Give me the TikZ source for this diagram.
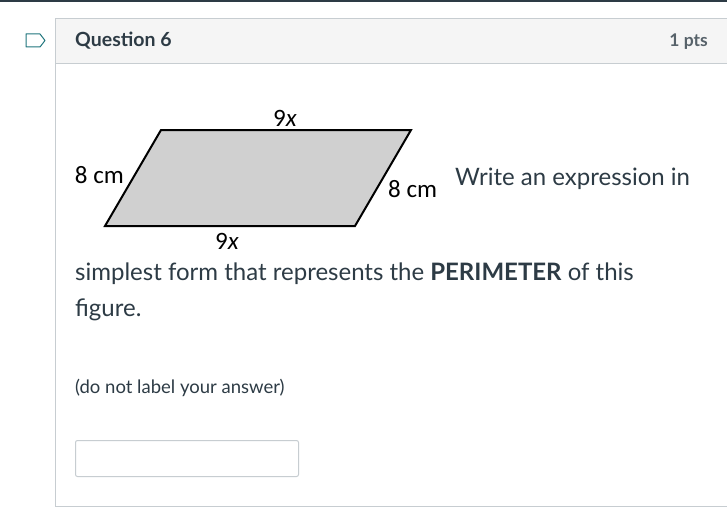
\documentclass[tikz,border=0pt]{standalone}
\usepackage{fontspec}
\setmainfont{Lato}
\newfontfamily\figfont{Carlito}
\usepackage{tikz}

\definecolor{inkdark}{HTML}{2D3B45}
\definecolor{rulegray}{HTML}{C7CDD1}
\definecolor{headbg}{HTML}{F5F5F5}
\definecolor{shapegray}{HTML}{D0D0D0}

\begin{document}
\begin{tikzpicture}[
		x=1pt, y=-1pt,
		every node/.style={inner sep=0pt, text=inkdark},
		body_text/.style={anchor=base west, font=\fontsize{24}{28}\selectfont},
		side_label/.style={font=\figfont\fontsize{25}{28}\selectfont, text=black}
	]
  \useasboundingbox (0,0) rectangle (727,508);
  \fill[white] (0,0) rectangle (727,508);
  \fill[inkdark] (0,0) rectangle (727,2.5);
  \fill[headbg] (55,19) rectangle (727,64);
  \draw[rulegray, line width=1pt] (727,19) -- (55,19) -- (55,506) -- (727,506);
  \draw[rulegray, line width=1pt] (55,64) -- (727,64);
  \draw[inkdark!70!cyan, line width=1pt, line join=round] (26,34) -- (40,34) -- (45,40.5) -- (40,47) -- (26,47) -- cycle;
  \node (q_title) [anchor=west, font=\bfseries\fontsize{19.5}{22}\selectfont] at (75,41) {Question 6};
  \node (q_pts) [anchor=east, font=\bfseries\fontsize{17.5}{20}\selectfont, text=inkdark!80] at (708,42) {1 pts};
  \coordinate (p_a) at (105,226);
  \coordinate (p_b) at (355,226);
  \coordinate (p_c) at (411,130);
  \coordinate (p_d) at (161,130);
  \draw[fill=shapegray, line width=2pt, line join=miter] (p_a) -- (p_b) -- (p_c) -- (p_d) -- cycle;
  \node (s_top) [side_label] at (285,118) {9\textit{x}};
  \node (s_bot) [side_label] at (227,241) {9\textit{x}};
  \node (s_left) [side_label, anchor=east] at (124,175) {8 cm};
  \node (s_right) [side_label, anchor=west] at (388,189) {8 cm};
  \node (line_a) [body_text] at (455,185) {Write an expression in};
  \node (line_b) [body_text] at (75,280) {simplest form that represents the \textbf{PERIMETER} of this};
  \node (line_c) [body_text] at (75,316) {figure.};
  \node (note) [anchor=base west, font=\fontsize{18.5}{22}\selectfont] at (75,393) {(do not label your answer)};
  \node (answer_box) [draw=rulegray, rounded corners=2pt, line width=1pt, minimum width=223pt, minimum height=36pt, anchor=north west] at (75,440) {};
\end{tikzpicture}
\end{document}
